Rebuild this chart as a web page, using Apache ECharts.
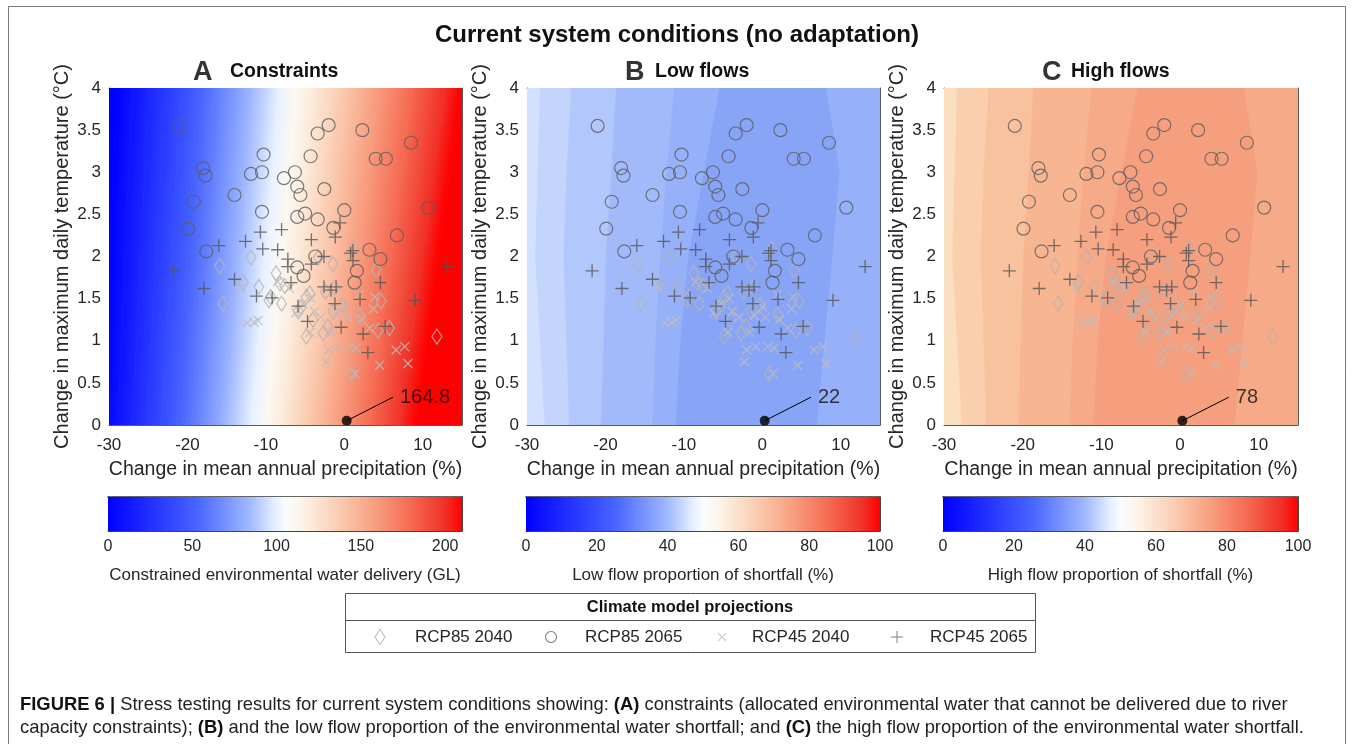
<!DOCTYPE html>
<html><head><meta charset="utf-8">
<script src="https://cdn.jsdelivr.net/npm/echarts@6/dist/echarts.min.js"></script>
<style>html,body{margin:0;padding:0;background:#fff;}#c{width:1354px;height:744px;}</style>
</head><body><div id="c"></div>
<script>
// ---------------- DATA ----------------
const xTickValues = [-30, -20, -10, 0, 10];
const yTickValues = [0, 0.5, 1, 1.5, 2, 2.5, 3, 3.5, 4];
const seriesNames = ['RCP85 2040', 'RCP85 2065', 'RCP45 2040', 'RCP45 2065'];

const rcp85_2040 = [[-15.9,1.89],[-15.5,1.44],[-11.9,1.99],[-12.9,1.69],[-10.9,1.64],[-9.6,1.48],[-8.7,1.8],[-8.2,1.68],[-8.0,1.44],[-5.9,1.35],[-4.85,1.52],[-4.4,1.56],[-4.85,1.05],[-2.7,1.09],[-2.1,1.17],[-3.3,1.99],[-1.45,1.91],[-1.25,1.63],[-1.45,1.35],[1.2,2.09],[0.9,0.61],[1.95,1.31],[4.05,1.84],[4.7,1.47],[4.3,1.12],[5.75,1.15],[11.8,1.05],[-2.4,1.58],[-7.6,1.65],[-4.0,1.25],[-0.3,1.42],[-5.5,1.4],[-9.4,1.52]];
const rcp85_2065 = [[-21.0,3.55],[-18.0,3.05],[-17.7,2.96],[-19.2,2.65],[-19.9,2.33],[-17.6,2.06],[-14.0,2.73],[-11.9,2.98],[-10.5,3.0],[-10.3,3.21],[-10.5,2.53],[-7.7,2.93],[-6.3,3.0],[-6.0,2.83],[-5.6,2.73],[-6.0,2.47],[-5.0,2.51],[-4.3,3.19],[-3.4,3.46],[-2.0,3.56],[-2.55,2.8],[-3.4,2.44],[-1.4,2.34],[0.0,2.55],[2.3,3.5],[4.0,3.16],[5.3,3.16],[8.5,3.35],[10.7,2.58],[6.7,2.25],[3.2,2.08],[4.6,1.97],[-3.7,2.0],[-6.0,1.87],[-5.2,1.77],[1.6,1.83],[1.3,1.69]];
const rcp45_2040 = [[-13.2,1.63],[-12.4,1.21],[-11.5,1.22],[-11.0,1.24],[-8.5,1.7],[-6.2,1.33],[-5.3,1.44],[-4.4,1.1],[-3.8,1.35],[-3.0,1.28],[-2.3,0.75],[-2.0,0.89],[-1.6,1.1],[-0.85,0.93],[-1.0,1.3],[0.0,1.4],[0.4,1.28],[0.7,0.93],[1.5,0.91],[1.35,0.61],[1.9,1.55],[2.2,1.25],[3.2,1.15],[3.7,1.38],[3.9,1.52],[4.5,0.71],[6.6,0.89],[7.7,0.93],[8.1,0.73],[-7.0,1.62],[-4.2,1.5]];
const rcp45_2065 = [[-21.7,1.83],[-17.9,1.62],[-16.0,2.13],[-14.0,1.73],[-12.6,2.18],[-10.7,2.29],[-10.4,2.09],[-11.2,1.53],[-8.5,2.08],[-8.0,2.32],[-9.2,1.51],[-7.2,1.97],[-7.2,1.88],[-6.8,1.69],[-5.9,1.41],[-4.7,1.23],[-4.2,2.2],[-4.2,1.91],[-2.6,2.0],[-1.15,2.23],[-0.55,2.4],[-2.6,1.64],[-1.7,1.6],[-1.05,1.64],[-1.2,1.44],[-0.4,1.16],[0.8,2.04],[1.1,2.07],[1.1,1.95],[2.0,1.49],[2.4,1.08],[3.0,0.86],[4.6,1.69],[5.2,1.17],[9.0,1.48],[13.1,1.88]];

// current-conditions point and its value in each panel
const baselinePoint = [0.3, 0.05];
const calloutEnd = [6.2, 0.33];
const baselineValues = ['164.8', '22', '78'];

const panelLetters = ['A', 'B', 'C'];
const panelTitles = ['Constraints', 'Low flows', 'High flows'];
const xAxisTitle = 'Change in mean annual precipitation (%)';
const yAxisTitle = 'Change in maximum daily temperature (\u00b0C)';
const mainTitle = 'Current system conditions (no adaptation)';
const legendTitle = 'Climate model projections';

const cbarMax = [210, 100, 100];
const cbarInterval = [50, 20, 20];
const cbarTitles = ['Constrained environmental water delivery (GL)', 'Low flow proportion of shortfall (%)', 'High flow proportion of shortfall (%)'];

// Panel A contour lines: level, x at y=0 and x at y=4
const aLevels  = [0, 10, 20, 30, 40, 50, 60, 70, 80, 90, 100, 110, 120, 130, 140, 150, 160, 170, 180, 190, 200, 210];
const aBottomX = [-30.8, -28.9, -27.0, -25.2, -23.3, -21.4, -19.5, -17.6, -15.7, -13.8, -11.9, -10.0, -8.1, -6.2, -4.3, -2.4, -0.5, 1.4, 3.3, 5.2, 7.1, 9.0];
const aTopX    = [-29.0, -27.0, -24.9, -22.8, -20.8, -18.7, -16.6, -14.5, -12.4, -10.3, -8.2, -6.1, -4.0, -1.9, 0.2, 2.3, 4.4, 6.5, 8.6, 10.7, 12.8, 14.9];

// Panels B & C contour band edges: x at y = 0,1,2,3,4
const bcEdgeY = [0, 1, 2, 3, 4];
const bcEdgesX = [
  [-27.7, -28.3, -28.9, -28.6, -28.3],
  [-24.6, -24.9, -25.3, -24.9, -24.3],
  [-20.5, -20.2, -19.9, -19.2, -18.6],
  [-14.0, -13.6, -13.0, -12.2, -11.2],
  [-11.0, -10.4, -9.4, -7.4, -5.4],
  [7.0, 8.0, 9.0, 9.9, 8.2]
];

// ---------------- STYLE ----------------
const FONT = '"Liberation Sans", Arial, Helvetica, sans-serif';
const TXT = '#262626';
const AX = '#5a5a5a';
const bColors = ['#d3e1fe', '#c3d4fd', '#b2c7fb', '#a2bafa', '#96b1f9', '#87a4f7', '#96b1f9'];
const cColors = ['#fadfc0', '#f9cfae', '#f8c29e', '#f7b591', '#f6aa88', '#f59f7e', '#f6aa88'];
const cmapStops = [[0,[0,0,255]],[0.25,[70,100,255]],[0.4,[160,185,255]],[0.47,[228,238,255]],[0.5,[250,252,255]],[0.55,[253,243,230]],[0.65,[250,205,178]],[0.75,[248,160,130]],[0.85,[245,110,85]],[0.95,[240,50,40]],[1,[255,0,0]]];
function rgb(c){return 'rgb('+c.map(v=>Math.round(v)).join(',')+')';}
function cmap(t){
  t = Math.max(0, Math.min(1, t));
  for (let i=1;i<cmapStops.length;i++){
    if (t <= cmapStops[i][0]){
      const a = cmapStops[i-1], b = cmapStops[i];
      const f = (t - a[0]) / (b[0] - a[0]);
      return rgb(a[1].map((v,k)=>v + (b[1][k]-v)*f));
    }
  }
  return rgb(cmapStops[cmapStops.length-1][1]);
}

const grids = [
  {left:109, top:88, width:353, height:337},
  {left:527, top:88, width:353, height:337},
  {left:944, top:88, width:354, height:337},
  {left:108, top:497, width:354, height:34},
  {left:526, top:497, width:354, height:34},
  {left:943, top:497, width:355, height:34}
];

const xAxes = [], yAxes = [];
for (let i=0;i<3;i++){
  xAxes.push({gridIndex:i, type:'value', min:-30, max:15, interval:10, position:'bottom',
    axisLine:{show:true,onZero:false,lineStyle:{color:AX,width:1}},
    axisTick:{show:true,inside:true,length:5,lineStyle:{color:AX}},
    axisLabel:{fontSize:17,color:TXT,fontFamily:FONT,margin:12,formatter:v=>xTickValues.indexOf(v)>=0?String(v):''},
    splitLine:{show:false},
    name:xAxisTitle, nameLocation:'middle', nameGap:35, nameTextStyle:{fontSize:19.5,color:TXT,fontFamily:FONT}});
  xAxes.push({gridIndex:i, type:'value', min:-30, max:15, interval:10, position:'top',
    axisLine:{show:true,onZero:false,lineStyle:{color:AX,width:1}},
    axisTick:{show:true,inside:true,length:5,lineStyle:{color:AX}},
    axisLabel:{show:false}, splitLine:{show:false}});
  yAxes.push({gridIndex:i, type:'value', min:0, max:4, interval:0.5, position:'left',
    axisLine:{show:true,onZero:false,lineStyle:{color:AX,width:1}},
    axisTick:{show:true,inside:true,length:5,lineStyle:{color:AX}},
    axisLabel:{fontSize:17,color:TXT,fontFamily:FONT,margin:8,formatter:v=>yTickValues.indexOf(v)>=0?String(v):''},
    splitLine:{show:false},
    name:yAxisTitle, nameLocation:'middle', nameGap:37, nameTextStyle:{fontSize:20,color:TXT,fontFamily:FONT}});
  yAxes.push({gridIndex:i, type:'value', min:0, max:4, interval:0.5, position:'right',
    axisLine:{show:true,onZero:false,lineStyle:{color:AX,width:1}},
    axisTick:{show:true,inside:true,length:5,lineStyle:{color:AX}},
    axisLabel:{show:false}, splitLine:{show:false}});
}
for (let j=0;j<3;j++){
  const g = 3+j;
  xAxes.push({gridIndex:g, type:'value', min:0, max:cbarMax[j], interval:cbarInterval[j], position:'bottom',
    axisLine:{show:true,onZero:false,lineStyle:{color:'#444',width:1}},
    axisTick:{show:true,inside:true,length:4,lineStyle:{color:'#444'}},
    axisLabel:{fontSize:16,color:TXT,fontFamily:FONT,margin:8,showMaxLabel:true,formatter:v=>(v % cbarInterval[j]===0)?String(v):''},
    splitLine:{show:false},
    name:cbarTitles[j], nameLocation:'middle', nameGap:36, nameTextStyle:{fontSize:17,color:TXT,fontFamily:FONT}});
  xAxes.push({gridIndex:g, type:'value', min:0, max:cbarMax[j], position:'top',
    axisLine:{show:true,onZero:false,lineStyle:{color:'#333',width:1.6}},
    axisTick:{show:false}, axisLabel:{show:false}, splitLine:{show:false}});
  yAxes.push({gridIndex:g, type:'value', min:0, max:1, position:'left',
    axisLine:{show:true,onZero:false,lineStyle:{color:'#444',width:1}},
    axisTick:{show:false}, axisLabel:{show:false}, splitLine:{show:false}});
  yAxes.push({gridIndex:g, type:'value', min:0, max:1, position:'right',
    axisLine:{show:true,onZero:false,lineStyle:{color:'#444',width:1}},
    axisTick:{show:false}, axisLabel:{show:false}, splitLine:{show:false}});
}

// band polygons of panel A from contour lines
const aBands = [];
aBands.push([-45, -45, aBottomX[0], aTopX[0], aLevels[0], aLevels[0]]);
for (let i=0;i<aLevels.length-1;i++) aBands.push([aBottomX[i], aTopX[i], aBottomX[i+1], aTopX[i+1], aLevels[i], aLevels[i+1]]);
aBands.push([aBottomX[aLevels.length-1], aTopX[aLevels.length-1], 40, 40, aLevels[aLevels.length-1], aLevels[aLevels.length-1]]);

function clipOf(cs){return {type:'rect', shape:{x:cs.x, y:cs.y, width:cs.width, height:cs.height}};}

function renderA(params, api){
  const d = aBands[params.dataIndex];
  const BL = api.coord([d[0],0]), TL = api.coord([d[1],4]), BR = api.coord([d[2],0]), TR = api.coord([d[3],4]);
  const dx = TL[0]-BL[0], dy = TL[1]-BL[1], len = Math.hypot(dx,dy);
  const nx = -dy/len, ny = dx/len;
  const ML = [(BL[0]+TL[0])/2,(BL[1]+TL[1])/2], MR = [(BR[0]+TR[0])/2,(BR[1]+TR[1])/2];
  let t = (MR[0]-ML[0])*nx + (MR[1]-ML[1])*ny; if (t < 1) t = 1;
  const c0 = cmap(d[4]/210), c1 = cmap(d[5]/210);
  const fill = {type:'linear', x:ML[0], y:ML[1], x2:ML[0]+nx*t, y2:ML[1]+ny*t, global:true,
    colorStops:[{offset:0,color:c0},{offset:1,color:c1}]};
  return {type:'polygon', shape:{points:[BL,TL,TR,BR]}, style:{fill:fill, stroke:fill, lineWidth:0.8}, clipPath:clipOf(params.coordSys)};
}

function makeBCRenderer(colors){
  const edges = [bcEdgeY.map(()=>-45)].concat(bcEdgesX).concat([bcEdgeY.map(()=>40)]);
  return function(params, api){
    const k = params.dataIndex;
    const L = edges[k], R = edges[k+1];
    const pts = [];
    for (let m=0;m<bcEdgeY.length;m++) pts.push(api.coord([L[m], bcEdgeY[m]]));
    for (let m=bcEdgeY.length-1;m>=0;m--) pts.push(api.coord([R[m], bcEdgeY[m]]));
    return {type:'polygon', shape:{points:pts}, style:{fill:colors[k], stroke:colors[k], lineWidth:0.8}, clipPath:clipOf(params.coordSys)};
  };
}

function renderCbar(params, api){
  const max = api.value(1);
  const p0 = api.coord([0,0]), p1 = api.coord([max,1]);
  return {type:'rect', shape:{x:p0[0], y:p1[1], width:p1[0]-p0[0], height:p0[1]-p1[1]},
    style:{fill:{type:'linear', x:0, y:0, x2:1, y2:0, colorStops:cmapStops.map(s=>({offset:s[0], color:rgb(s[1])}))}}};
}

const markerStyles = [
  {symbol:'path://M5,0L10,8L5,16L0,8Z', symbolSize:[10,15], itemStyle:{color:'none', borderColor:'#b4b4b4', borderWidth:1.3}},
  {symbol:'circle', symbolSize:13, itemStyle:{color:'rgba(0,0,0,0)', borderColor:'#5c5c5c', borderWidth:1.2}},
  {symbol:'path://M0,0L10,10M10,0L0,10', symbolSize:9, itemStyle:{color:'none', borderColor:'#bdbdbd', borderWidth:1.3}},
  {symbol:'path://M0,6L12,6M6,0L6,12', symbolSize:13, itemStyle:{color:'none', borderColor:'#555555', borderWidth:1.3}}
];
const seriesData = [rcp85_2040, rcp85_2065, rcp45_2040, rcp45_2065];

const series = [];
for (let i=0;i<3;i++){
  const xi = 2*i, yi = 2*i;
  if (i===0){
    series.push({type:'custom', xAxisIndex:xi, yAxisIndex:yi, z:1, silent:true, renderItem:renderA,
      data:aBands.map(b=>[b[0], 0, b[2], 4]), clip:true});
  } else {
    const cols = i===1 ? bColors : cColors;
    series.push({type:'custom', xAxisIndex:xi, yAxisIndex:yi, z:1, silent:true, renderItem:makeBCRenderer(cols),
      data:cols.map((c,k)=>[k, 0]), clip:true});
  }
  for (let s=0;s<4;s++){
    series.push(Object.assign({type:'scatter', name:seriesNames[s], xAxisIndex:xi, yAxisIndex:yi, z:3,
      data:seriesData[s], clip:false}, JSON.parse(JSON.stringify(markerStyles[s]))));
  }
  series.push({type:'line', xAxisIndex:xi, yAxisIndex:yi, z:4, symbol:'none', silent:true,
    data:[baselinePoint, calloutEnd], lineStyle:{color:'#000', width:1}});
  series.push({type:'scatter', xAxisIndex:xi, yAxisIndex:yi, z:5, symbol:'circle', symbolSize:10, silent:true,
    data:[baselinePoint], itemStyle:{color:'#000'}});
  series.push({type:'scatter', xAxisIndex:xi, yAxisIndex:yi, z:5, symbolSize:0, silent:true,
    data:[calloutEnd], label:{show:true, position:'right', distance:7, formatter:baselineValues[i], fontSize:20, color:'#111', fontFamily:FONT}});
}
for (let j=0;j<3;j++){
  series.push({type:'custom', xAxisIndex:6+2*j, yAxisIndex:6+2*j, z:1, silent:true, renderItem:renderCbar, data:[[0, cbarMax[j]]]});
}

const titles = [{text:mainTitle, left:'center', top:23, padding:0, textStyle:{fontSize:24, fontWeight:'bold', color:'#111', fontFamily:FONT}}];
const letterLeft = [193, 625, 1042], titleLeft = [230, 655, 1071];
for (let i=0;i<3;i++){
  titles.push({text:panelLetters[i], left:letterLeft[i], top:59, padding:0, textStyle:{fontSize:27, fontWeight:'bold', color:'#333', fontFamily:FONT}});
  titles.push({text:panelTitles[i], left:titleLeft[i], top:62, padding:0, textStyle:{fontSize:19.5, fontWeight:'bold', color:'#111', fontFamily:FONT}});
}

// legend box (drawn as graphics in the reference's layout)
const legendTextX = [415, 585, 752, 930];
const LY = 637;
const legendIcons = [
  {type:'polygon', shape:{points:[[380,629.5],[385,637],[380,644.5],[375,637]]}, style:{fill:'none', stroke:'#bdbdbd', lineWidth:1.1}},
  {type:'circle', shape:{cx:551, cy:637, r:5.5}, style:{fill:'none', stroke:'#7a7a7a', lineWidth:1.1}},
  {type:'polyline', shape:{points:[[718,633],[726,641]]}, style:{stroke:'#cfcfcf', lineWidth:1.1}},
  {type:'polyline', shape:{points:[[718,641],[726,633]]}, style:{stroke:'#cfcfcf', lineWidth:1.1}},
  {type:'polyline', shape:{points:[[891,637],[903,637]]}, style:{stroke:'#8a8a8a', lineWidth:1.1}},
  {type:'polyline', shape:{points:[[897,631],[897,643]]}, style:{stroke:'#8a8a8a', lineWidth:1.1}}
];

const graphics = [
  {type:'rect', shape:{x:8.5, y:6.5, width:1337, height:800}, style:{fill:'none', stroke:'#7a7a7a', lineWidth:1}, silent:true, z:-1},
  {type:'rect', shape:{x:345.5, y:593.5, width:690, height:59}, style:{fill:'none', stroke:'#555', lineWidth:1}, silent:true},
  {type:'line', shape:{x1:345.5, y1:620.5, x2:1035.5, y2:620.5}, style:{stroke:'#555', lineWidth:1}, silent:true},
  {type:'text', x:690, y:607, style:{text:legendTitle, font:'bold 16.5px '+FONT, fill:'#111', textAlign:'center', textVerticalAlign:'middle'}, silent:true},
  {type:'text', x:20, y:705, style:{text:'{b|FIGURE 6 |} Stress testing results for current system conditions showing: {b|(A)} constraints (allocated environmental water that cannot be delivered due to river', rich:{b:{fontWeight:'bold', fontSize:18.4, fontFamily:FONT, fill:'#111'}}, fontSize:18.4, fontFamily:FONT, fill:'#222', textVerticalAlign:'middle'}, silent:true},
  {type:'text', x:20, y:728, style:{text:'capacity constraints); {b|(B)} and the low flow proportion of the environmental water shortfall; and {b|(C)} the high flow proportion of the environmental water shortfall.', rich:{b:{fontWeight:'bold', fontSize:18.4, fontFamily:FONT, fill:'#111'}}, fontSize:18.4, fontFamily:FONT, fill:'#222', textVerticalAlign:'middle'}, silent:true}
].concat(legendIcons.map(g=>Object.assign({silent:true}, g)))
 .concat(seriesNames.map((n,k)=>({type:'text', x:legendTextX[k], y:LY, silent:true,
   style:{text:n, font:'17px '+FONT, fill:TXT, textAlign:'left', textVerticalAlign:'middle'}})));

const chart = echarts.init(document.getElementById('c'), null, {renderer:'canvas'});
chart.setOption({
  animation:false,
  backgroundColor:'#fff',
  textStyle:{fontFamily:FONT},
  title:titles,
  grid:grids,
  xAxis:xAxes,
  yAxis:yAxes,
  series:series,
  graphic:graphics
});
</script></body></html>
